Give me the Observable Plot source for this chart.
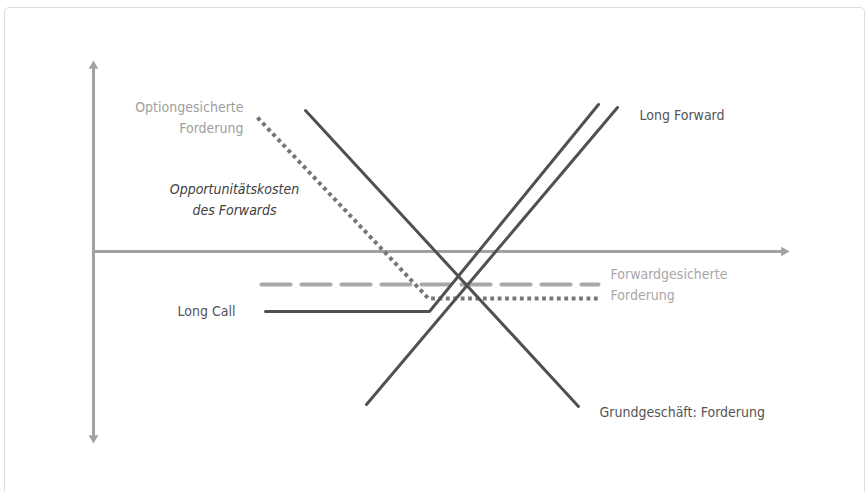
<!DOCTYPE html>
<html>
<head>
<meta charset="utf-8">
<script src="https://cdn.jsdelivr.net/npm/d3@7"></script>
<script src="https://cdn.jsdelivr.net/npm/@observablehq/plot@0.6"></script>
<style>
  html, body { margin: 0; padding: 0; background: #fff; }
  #wrap { position: relative; width: 867px; height: 492px; overflow: hidden; }
  #card { position: absolute; left: 4px; top: 7px; width: 861px; height: 520px;
          border: 1px solid #dcdcdc; border-radius: 5px; box-sizing: border-box; }
  #chart { position: absolute; left: 0; top: 0; }
</style>
</head>
<body>
<div id="wrap"><div id="card"></div><div id="chart"></div></div>
<script>
// Schematic payoff diagram: x = underlying price, y = payoff (abstract units)
const grundgeschaeftX = [21.2, 48.5];
const grundgeschaeftY = [14.1, -15.5];
const longForwardX = [27.3, 52.4];
const longForwardY = [-15.3, 14.4];
const longCallX = [17.2, 33.6, 50.5];
const longCallY = [-6.0, -6.0, 14.7];
const optionGesichertX = [16.4, 33.5, 50.5];
const optionGesichertY = [13.4, -4.7, -4.7];
const forwardGesichertX = [16.8, 50.5];
const forwardGesichertY = [-3.3, -3.3];

const axisXEnd = 69.4;
const axisYTop = 18.9;
const axisYBottom = -19.0;

const labelTexts = [
  "Optiongesicherte\nForderung",
  "Opportunitätskosten\ndes Forwards",
  "Long Forward",
  "Forwardgesicherte\nForderung",
  "Long Call",
  "Grundgeschäft: Forderung"
];
const labelX = [15.0, 14.1, 54.6, 51.7, 8.4, 50.6];
const labelY = [13.55, 5.4, 13.6, -3.15, -6.0, -16.1];

const pts = (xs, ys) => xs.map((x, i) => ({x, y: ys[i]}));
const labels = labelTexts.map((t, i) => ({text: t, x: labelX[i], y: labelY[i]}));

const axisColor = "#a2a2a6";
const dark = "#505050";
const font = "'DejaVu Sans Condensed', 'Liberation Sans Narrow', sans-serif";

const chart = Plot.plot({
  width: 867,
  height: 492,
  margin: 0,
  x: {domain: [-9.3, 77.4], axis: null},
  y: {domain: [-24.1, 25.1], axis: null},
  style: {fontFamily: font, background: "transparent", overflow: "visible"},
  marks: [
    // axes
    Plot.line(pts([0, axisXEnd - 0.6], [0, 0]), {x: "x", y: "y", stroke: axisColor, strokeWidth: 3}),
    Plot.line(pts([0, 0], [axisYBottom + 0.6, axisYTop - 0.6]), {x: "x", y: "y", stroke: axisColor, strokeWidth: 3}),
    Plot.dot([{x: axisXEnd - 0.35, y: 0}], {x: "x", y: "y", symbol: "triangle", r: 3.6, fill: axisColor, rotate: 90}),
    Plot.dot([{x: 0, y: axisYTop - 0.35}], {x: "x", y: "y", symbol: "triangle", r: 3.6, fill: axisColor, rotate: 0}),
    Plot.dot([{x: 0, y: axisYBottom + 0.35}], {x: "x", y: "y", symbol: "triangle", r: 3.6, fill: axisColor, rotate: 180}),
    // series
    Plot.line(pts(forwardGesichertX, forwardGesichertY), {x: "x", y: "y", stroke: "#a8a8a8", strokeWidth: 4, strokeDasharray: "29 11"}),
    Plot.line(pts(optionGesichertX, optionGesichertY), {x: "x", y: "y", stroke: "#767676", strokeWidth: 4, strokeDasharray: "3.8 3.6", strokeLinecap: "butt"}),
    Plot.line(pts(longCallX, longCallY), {x: "x", y: "y", stroke: dark, strokeWidth: 3, strokeLinejoin: "miter"}),
    Plot.line(pts(longForwardX, longForwardY), {x: "x", y: "y", stroke: dark, strokeWidth: 3}),
    Plot.line(pts(grundgeschaeftX, grundgeschaeftY), {x: "x", y: "y", stroke: dark, strokeWidth: 3}),
    // labels
    Plot.text([labels[0]], {x: "x", y: "y", text: "text", textAnchor: "end", fill: "#a0a0a0", fontSize: 14, lineHeight: 1.5}),
    Plot.text([labels[1]], {x: "x", y: "y", text: "text", textAnchor: "middle", fill: "#404040", fontSize: 14, fontStyle: "italic", lineHeight: 1.5}),
    Plot.text([labels[2]], {x: "x", y: "y", text: "text", textAnchor: "start", fill: "#555", fontSize: 14}),
    Plot.text([labels[3]], {x: "x", y: "y", text: "text", textAnchor: "start", fill: "#a8a8a8", fontSize: 14, lineHeight: 1.5}),
    Plot.text([labels[4]], {x: "x", y: "y", text: "text", textAnchor: "start", fill: "#555", fontSize: 14}),
    Plot.text([labels[5]], {x: "x", y: "y", text: "text", textAnchor: "start", fill: "#555", fontSize: 14})
  ]
});
document.getElementById("chart").appendChild(chart);
</script>
</body>
</html>
